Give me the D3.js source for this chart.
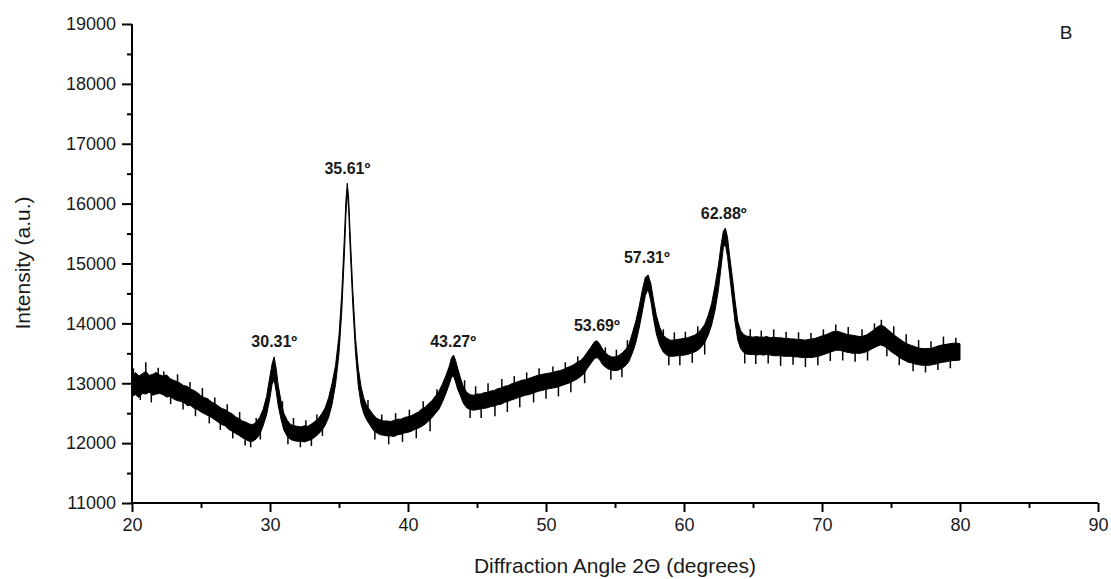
<!DOCTYPE html>
<html><head><meta charset="utf-8">
<script src="https://cdn.jsdelivr.net/npm/d3@7"></script>
<style>body{margin:0;background:#fff}svg{display:block}text{font-family:"Liberation Sans",Arial,sans-serif}</style>
</head><body><svg id="c" width="1111" height="579"></svg>
<script>
// 2θ angle samples with lower / upper envelope of the dense core of the noisy trace
const angles = [
20.00,20.25,20.50,20.75,21.00,21.25,21.50,21.75,22.00,22.25,22.50,22.75,23.00,23.25,23.50,23.75,24.00,24.25,24.50,24.75,
25.00,25.25,25.50,25.75,26.00,26.25,26.50,26.75,27.00,27.25,27.50,27.75,28.00,28.25,28.50,28.75,29.00,29.25,29.50,29.75,
30.00,30.15,30.30,30.45,30.60,30.80,31.00,31.25,31.50,31.75,32.00,32.25,32.50,32.75,33.00,33.25,33.50,33.75,34.00,34.25,
34.50,34.75,35.00,35.20,35.40,35.50,35.60,35.70,35.80,36.00,36.20,36.40,36.60,36.80,37.00,37.25,37.50,37.75,38.00,38.25,
38.50,38.75,39.00,39.25,39.50,39.75,40.00,40.25,40.50,40.75,41.00,41.25,41.50,41.75,42.00,42.25,42.50,42.75,43.00,43.15,
43.30,43.45,43.60,43.80,44.00,44.25,44.50,44.75,45.00,45.25,45.50,45.75,46.00,46.25,46.50,46.75,47.00,47.25,47.50,47.75,
48.00,48.25,48.50,48.75,49.00,49.25,49.50,49.75,50.00,50.25,50.50,50.75,51.00,51.25,51.50,51.75,52.00,52.25,52.50,52.75,
53.00,53.25,53.50,53.70,53.90,54.10,54.30,54.50,54.75,55.00,55.25,55.50,55.75,56.00,56.25,56.50,56.75,57.00,57.20,57.40,
57.60,57.80,58.00,58.25,58.50,58.75,59.00,59.25,59.50,59.75,60.00,60.25,60.50,60.75,61.00,61.25,61.50,61.75,62.00,62.25,
62.50,62.70,62.85,63.00,63.15,63.30,63.50,63.70,63.90,64.10,64.30,64.50,64.75,65.00,65.25,65.50,65.75,66.00,66.25,66.50,
66.75,67.00,67.25,67.50,67.75,68.00,68.25,68.50,68.75,69.00,69.25,69.50,69.75,70.00,70.25,70.50,70.75,71.00,71.25,71.50,
71.75,72.00,72.25,72.50,72.75,73.00,73.25,73.50,73.75,74.00,74.25,74.50,74.75,75.00,75.25,75.50,75.75,76.00,76.25,76.50,
76.75,77.00,77.25,77.50,77.75,78.00,78.25,78.50,78.75,79.00,79.25,79.50,79.75,80.00];
const intensityLow = [
12780,12810,12760,12830,12820,12850,12800,12820,12830,12810,12770,12780,12740,12710,12700,12680,12630,12630,12580,12560,
12520,12490,12460,12430,12390,12350,12310,12290,12230,12200,12160,12130,12090,12060,12030,12030,12070,12140,12290,12470,
12760,12980,13060,12860,12620,12400,12220,12110,12060,12040,12030,12030,12020,12040,12060,12100,12150,12210,12300,12430,
12650,12980,13500,14200,15200,15800,16200,15900,15300,14300,13500,12950,12650,12490,12390,12300,12210,12170,12140,12130,
12120,12120,12110,12140,12150,12170,12180,12200,12230,12250,12280,12320,12370,12430,12500,12570,12690,12830,12990,13100,
13120,13020,12900,12790,12670,12590,12560,12550,12560,12570,12580,12590,12610,12620,12640,12650,12680,12700,12720,12740,
12760,12780,12800,12810,12830,12850,12870,12880,12900,12910,12920,12930,12950,12970,12990,13010,13040,13070,13110,13160,
13250,13330,13410,13430,13390,13310,13270,13240,13220,13210,13220,13250,13290,13360,13500,13670,13920,14220,14470,14570,
14370,14070,13820,13630,13520,13470,13450,13450,13460,13460,13470,13480,13500,13520,13550,13600,13680,13800,13970,14220,
14570,14970,15270,15320,15120,14820,14420,14020,13720,13580,13520,13490,13480,13480,13470,13480,13470,13480,13470,13460,
13460,13460,13450,13450,13450,13440,13440,13430,13430,13430,13430,13440,13450,13470,13490,13510,13530,13550,13550,13540,
13520,13510,13500,13500,13500,13510,13530,13560,13590,13620,13640,13620,13580,13530,13490,13450,13410,13380,13350,13340,
13320,13310,13300,13300,13300,13310,13320,13340,13350,13360,13370,13380,13380,13390];
const intensityHigh = [
13100,13180,13120,13160,13200,13130,13150,13180,13140,13120,13140,13080,13050,13030,13000,12960,12950,12900,12880,12840,
12790,12760,12740,12690,12660,12620,12580,12560,12520,12490,12440,12410,12370,12350,12320,12310,12350,12430,12560,12780,
13120,13320,13440,13240,12960,12700,12500,12380,12310,12290,12280,12270,12290,12280,12320,12360,12410,12490,12590,12760,
13000,13300,13800,14500,15500,16050,16340,16100,15550,14550,13750,13250,12940,12750,12630,12550,12470,12410,12390,12370,
12370,12360,12380,12400,12400,12430,12440,12460,12490,12520,12570,12600,12660,12710,12790,12870,12990,13130,13290,13420,
13470,13380,13250,13090,12950,12850,12810,12800,12820,12820,12840,12850,12870,12880,12910,12920,12950,12960,12990,13010,
13030,13050,13060,13080,13100,13120,13140,13150,13160,13170,13180,13200,13210,13230,13260,13280,13310,13350,13380,13440,
13520,13600,13690,13710,13650,13570,13510,13470,13440,13440,13460,13500,13560,13640,13830,14030,14280,14580,14770,14810,
14660,14380,14130,13930,13800,13750,13720,13720,13730,13740,13750,13760,13780,13800,13840,13900,13980,14130,14330,14630,
14980,15330,15540,15590,15440,15140,14780,14380,14030,13880,13820,13790,13780,13770,13780,13770,13770,13780,13760,13770,
13760,13760,13750,13750,13740,13740,13730,13730,13720,13730,13740,13750,13770,13790,13810,13830,13860,13870,13860,13840,
13820,13810,13800,13790,13780,13790,13810,13850,13890,13940,13970,13950,13900,13850,13800,13760,13720,13680,13650,13630,
13610,13590,13580,13580,13580,13590,13610,13630,13640,13650,13660,13670,13670,13660];
// individual noise spikes seen around the band: angle, lowest and highest value reached
const spikeAngles = [20.1,20.6,21.0,21.4,21.9,22.3,22.8,23.3,23.7,24.2,24.6,25.1,25.6,26.0,26.4,26.9,27.3,27.8,28.2,28.6,29.0,29.3,
30.9,31.3,31.7,32.2,32.6,33.0,33.4,33.8,37.1,37.6,38.1,38.6,39.1,39.6,40.1,40.6,41.1,41.6,42.1,
44.1,44.5,44.9,45.3,45.8,46.3,46.8,47.2,47.7,48.1,48.6,49.1,49.5,50.0,50.5,50.9,51.4,51.8,52.3,52.8,
54.3,54.7,55.1,55.5,55.9,58.5,58.9,59.3,59.7,60.1,60.6,61.0,61.5,
64.4,64.8,65.2,65.6,66.1,66.5,67.0,67.4,67.9,68.3,68.8,69.2,69.7,70.1,70.6,71.0,71.5,71.9,72.4,72.9,73.3,73.8,74.3,74.7,
75.2,75.6,76.1,76.6,77.0,77.5,77.9,78.4,78.8,79.3,79.7];
const spikeLow = [12950,12720,12980,12680,12980,12960,12650,12880,12560,12780,12450,12650,12330,12520,12220,12420,12080,12290,11960,11930,12200,12060,
12450,11980,12180,11930,12150,11950,12260,12120,12500,12060,12250,11980,12260,12020,12320,12080,12420,12200,12620,
12820,12420,12680,12420,12720,12450,12780,12520,12860,12600,12940,12680,13000,12740,13050,12780,13100,12850,13200,13000,
13380,13060,13330,13100,13480,13650,13300,13600,13300,13620,13340,13700,13480,
13330,13620,13320,13620,13330,13620,13290,13600,13310,13590,13270,13580,13300,13640,13370,13720,13380,13660,13360,13640,13380,13740,13800,13450,
13660,13300,13540,13200,13460,13180,13450,13220,13520,13250,13520];
const spikeHigh = [13250,12980,13350,12990,13260,13200,12930,13150,12840,13020,12720,12920,12600,12760,12470,12650,12350,12520,12220,12180,12420,12300,
12700,12250,12420,12150,12380,12190,12480,12350,12720,12330,12480,12250,12500,12290,12560,12360,12700,12520,12900,
13050,12680,12950,12700,13000,12750,13070,12830,13120,12900,13180,12980,13250,13030,13280,13080,13350,13140,13450,13300,
13600,13330,13560,13370,13720,13900,13580,13850,13600,13860,13620,13950,13820,
13650,13900,13620,13880,13620,13900,13600,13860,13590,13850,13580,13840,13600,13900,13660,13980,13680,13940,13650,13900,13660,14000,14060,13760,
13950,13600,13820,13480,13720,13440,13700,13500,13780,13520,13760];
const peakAngles = [30.31,35.61,43.27,53.69,57.31,62.88];
const peakLabels = ["30.31º","35.61º","43.27º","53.69º","57.31º","62.88º"];
const peakLabelValues = [13450,16350,13450,13730,14850,15600];
const xTicks = [20,30,40,50,60,70,80,90];
const yTicks = [11000,12000,13000,14000,15000,16000,17000,18000,19000];

const svg = d3.select("#c");
const x = d3.scaleLinear().domain([20,90]).range([132,1098]);
const y = d3.scaleLinear().domain([11000,19000]).range([503,24]);

const data = angles.map((a,i)=>({a, lo:intensityLow[i], hi:intensityHigh[i]}));
const area = d3.area().x(d=>x(d.a)).y0(d=>y(d.lo)).y1(d=>y(d.hi));
svg.append("path").datum(data).attr("d",area).attr("fill","#000").attr("stroke","#000").attr("stroke-width",1);
svg.append("g").selectAll("line").data(spikeAngles).enter().append("line")
  .attr("x1",d=>x(d)).attr("x2",d=>x(d))
  .attr("y1",(d,i)=>y(spikeLow[i])).attr("y2",(d,i)=>y(spikeHigh[i]))
  .attr("stroke","#000").attr("stroke-width",1.5);

// axes
const xAxis = d3.axisBottom(x).tickValues(xTicks).tickSize(9).tickPadding(6).tickFormat(d3.format("d"));
const xMinor = d3.axisBottom(x).tickValues(d3.range(25,90,10)).tickSize(5).tickFormat("");
const gx = svg.append("g").attr("transform","translate(0,503)").call(xAxis);
svg.append("g").attr("transform","translate(0,503)").call(xMinor).select(".domain").remove();
const yAxis = d3.axisLeft(y).tickValues(yTicks).tickSize(10).tickPadding(6).tickFormat(d3.format("d"));
const yMinor = d3.axisLeft(y).tickValues(d3.range(11500,19000,1000)).tickSize(5).tickFormat("");
const gy = svg.append("g").attr("transform","translate(132,0)").call(yAxis);
svg.append("g").attr("transform","translate(132,0)").call(yMinor).select(".domain").remove();
svg.selectAll(".domain").attr("stroke","#000").attr("stroke-width",2);
svg.selectAll(".tick line").attr("stroke","#000").attr("stroke-width",2);
svg.selectAll(".tick text").attr("font-size",18).attr("fill","#1a1a1a").attr("font-family","'Liberation Sans',Arial,sans-serif");
gx.selectAll(".domain").attr("d","M132,0H1098");
gy.selectAll(".domain").attr("d","M0,503V24");

// peak labels
svg.selectAll(".pl").data(peakAngles).enter().append("text")
  .attr("x",d=>x(d)).attr("y",(d,i)=>y(peakLabelValues[i])-9)
  .attr("text-anchor","middle").attr("font-size",16).attr("font-weight","bold").attr("fill","#1a1a1a")
  .text((d,i)=>peakLabels[i]);

svg.append("text").attr("x",615).attr("y",573).attr("text-anchor","middle").attr("font-size",21).attr("fill","#1a1a1a").text("Diffraction Angle 2Θ (degrees)");
svg.append("text").attr("transform","translate(30,263) rotate(-90)").attr("text-anchor","middle").attr("font-size",21).attr("fill","#1a1a1a").text("Intensity (a.u.)");
svg.append("text").attr("x",1066).attr("y",39).attr("text-anchor","middle").attr("font-size",19).attr("fill","#1a1a1a").text("B");
</script></body></html>
